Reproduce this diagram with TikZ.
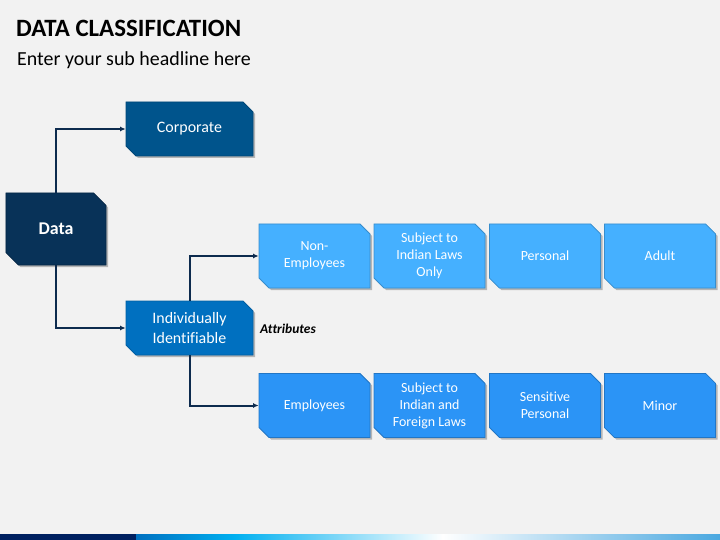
\documentclass[tikz,border=0pt]{standalone}
\usepackage{fontspec}
\setmainfont{Carlito}[Ligatures=NoCommon]
\usetikzlibrary{shapes.misc,arrows.meta,shadows}
\definecolor{bg}{HTML}{F2F2F2}
\definecolor{cdata}{RGB}{8,50,88}
\definecolor{ccorp}{RGB}{0,84,140}
\definecolor{cind}{RGB}{0,112,192}
\definecolor{ctop}{RGB}{69,176,255}
\definecolor{cbot}{RGB}{43,148,246}
\definecolor{cline}{RGB}{13,43,78}
\definecolor{navy}{HTML}{002060}
\definecolor{bl1}{HTML}{0070C0}
\definecolor{bl2}{HTML}{00B0F0}
\definecolor{bl3}{HTML}{4AA8E0}
\tikzset{
  box/.style={chamfered rectangle, chamfered rectangle corners={north east,south west},
    chamfered rectangle sep=5bp, inner sep=0pt, align=center, text=white,
    drop shadow={shadow xshift=2bp, shadow yshift=-2bp, opacity=0.25, fill=black}},
  bigbox/.style={box, minimum width=127bp, minimum height=54bp, font=\fontsize{16}{19.2}\selectfont},
  smallbox/.style={box, minimum width=111bp, minimum height=64bp, font=\fontsize{14}{17}\selectfont},
  conn/.style={draw=cline, line width=2bp, -{Latex[length=5.5bp,width=5bp]}}
}
\begin{document}
\begin{tikzpicture}[x=1bp,y=-1bp]
\fill[bg] (0,0) rectangle (720,540);
\useasboundingbox (0,0) rectangle (720,540);
% bottom bar
\fill[navy] (0,534) rectangle (136,540);
\shade[left color=bl1, right color=bl2] (136,534) rectangle (235,540);
\shade[left color=bl2, right color=white] (234.5,534) rectangle (443,540);
\shade[left color=white, right color=bl3] (442.5,534) rectangle (720,540);
% titles
\node[anchor=base west, inner sep=0pt, font=\fontsize{25}{30}\selectfont\bfseries] (title) at (16,37) {DATA CLASSIFICATION};
\node[anchor=base west, inner sep=0pt, font=\fontsize{20}{24}\selectfont] (sub) at (17,66) {Enter your sub headline here};
% boxes
\node[box, fill=cdata, draw=cdata!80!black, line width=0.8bp, chamfered rectangle sep=6.5bp, minimum width=100bp, minimum height=72bp, font=\fontsize{18}{21}\selectfont\bfseries] (data) at (56,229) {Data};
\node[bigbox, fill=ccorp, draw=ccorp!85!black, line width=0.8bp] (corp) at (189.5,129) {Corporate};
\node[bigbox, fill=cind, draw=cind!85!black, line width=0.8bp] (ind) at (189.5,328) {Individually\\Identifiable};
\node[smallbox, fill=ctop, draw=ctop!80!black, line width=0.8bp] (ne) at (314.5,256) {Non-\\Employees};
\node[smallbox, fill=ctop, draw=ctop!80!black, line width=0.8bp] (sil) at (429.5,256) {Subject to\\Indian Laws\\Only};
\node[smallbox, fill=ctop, draw=ctop!80!black, line width=0.8bp] (pers) at (545,256) {Personal};
\node[smallbox, fill=ctop, draw=ctop!80!black, line width=0.8bp] (adult) at (660,256) {Adult};
\node[smallbox, fill=cbot, draw=cbot!80!black, line width=0.8bp] (emp) at (314.5,405.5) {Employees};
\node[smallbox, fill=cbot, draw=cbot!80!black, line width=0.8bp] (sif) at (429.5,405.5) {Subject to\\Indian and\\Foreign Laws};
\node[smallbox, fill=cbot, draw=cbot!80!black, line width=0.8bp] (sens) at (545,405.5) {Sensitive\\Personal};
\node[smallbox, fill=cbot, draw=cbot!80!black, line width=0.8bp] (minor) at (660,405.5) {Minor};
\node[anchor=west, inner sep=0pt, font=\fontsize{13.5}{16}\selectfont\bfseries\itshape] (attr) at (260,329) {Attributes};
% connectors
\draw[conn] (data.north) |- (corp.west);
\draw[conn] (data.south) |- (ind.west);
\draw[conn] (ind.north) |- (ne.west);
\draw[conn] (ind.south) |- (emp.west);
\end{tikzpicture}
\end{document}
